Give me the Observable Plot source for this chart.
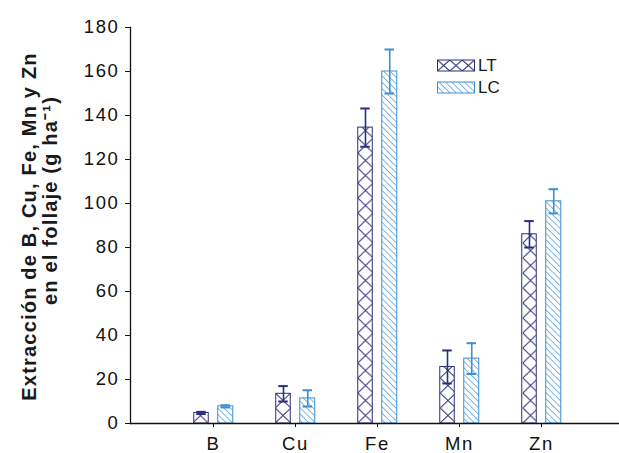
<!DOCTYPE html>
<html>
<head>
<meta charset="utf-8">
<script src="https://cdn.jsdelivr.net/npm/d3@7"></script>
<script src="https://cdn.jsdelivr.net/npm/@observablehq/plot@0.6"></script>
<style>
  html, body { margin: 0; padding: 0; background: #fff; }
  #chart { width: 619px; height: 453px; }
</style>
</head>
<body>
<div id="chart"></div>
<script>
const categories = ["B", "Cu", "Fe", "Mn", "Zn"];
const ltValues = [4.8, 13.5, 134.5, 25.7, 86];
const ltErrors = [0.5, 3.5, 8.7, 7.5, 6];
const lcValues = [7.8, 11.4, 160, 29.5, 101];
const lcErrors = [0.5, 3.7, 10, 7, 5.5];
const yTicks = [0, 20, 40, 60, 80, 100, 120, 140, 160, 180];
const seriesNames = ["LT", "LC"];
const titleLine1 = "Extracción de B, Cu, Fe, Mn y Zn";
const titleLine2 = "en el follaje (g ha⁻¹)";

const NAVY = "#2a2f78";
const BLUE = "#3b8fd3";

const lt = categories.map((c, i) => ({cat: c, v: ltValues[i], lo: ltValues[i] - ltErrors[i], hi: ltValues[i] + ltErrors[i]}));
const lc = categories.map((c, i) => ({cat: c, v: lcValues[i], lo: lcValues[i] - lcErrors[i], hi: lcValues[i] + lcErrors[i]}));

const half = 41.25; // half band width in px
const font = "'Liberation Sans', Arial, sans-serif";

const plot = Plot.plot({
  width: 619,
  height: 453,
  marginLeft: 130,
  marginRight: 0,
  marginTop: 27,
  marginBottom: 30,
  style: {fontFamily: font, color: "#1a1a1a", background: "#fff"},
  x: {type: "band", domain: categories, range: [171.05, 583.55], padding: 0},
  y: {domain: [0, 180], range: [423, 27]},
  marks: [
    Plot.barY(lt, {x: "cat", y: "v", insetLeft: half - 19.5, insetRight: half + 4.5, fill: "url(#pLT)", stroke: NAVY, strokeWidth: 1}),
    Plot.barY(lc, {x: "cat", y: "v", insetLeft: half + 4.5, insetRight: half - 20, fill: "url(#pLC)", stroke: BLUE, strokeWidth: 1}),
    Plot.ruleX(lt, {x: "cat", y1: "lo", y2: "hi", dx: -12, stroke: NAVY, strokeWidth: 1.6}),
    Plot.ruleX(lc, {x: "cat", y1: "lo", y2: "hi", dx: 12.25, stroke: BLUE, strokeWidth: 1.6}),
    Plot.tickY(lt, {x: "cat", y: "hi", insetLeft: half - 17, insetRight: half + 7, stroke: NAVY, strokeWidth: 2}),
    Plot.tickY(lt, {x: "cat", y: "lo", insetLeft: half - 17, insetRight: half + 7, stroke: NAVY, strokeWidth: 2}),
    Plot.tickY(lc, {x: "cat", y: "hi", insetLeft: half + 7.25, insetRight: half - 17.25, stroke: BLUE, strokeWidth: 2}),
    Plot.tickY(lc, {x: "cat", y: "lo", insetLeft: half + 7.25, insetRight: half - 17.25, stroke: BLUE, strokeWidth: 2}),
    Plot.ruleY([0], {stroke: "#111", strokeWidth: 1.3}),
    Plot.frame({anchor: "left", stroke: "#111", strokeWidth: 1.3}),
    Plot.axisY({ticks: yTicks, tickSize: 5, tickPadding: 6, fontSize: 18.5, label: null, stroke: "#111", fill: "#111"}),
    Plot.axisX({tickSize: 4, tickPadding: 9, fontSize: 18.5, label: null, stroke: "#111", fill: "#111"}),
    Plot.text([titleLine1], {frameAnchor: "left", textAnchor: "middle", rotate: -90, dx: -101, dy: 1, fontSize: 20, fontWeight: "bold", fill: "#1a1a1a"}),
    Plot.text([titleLine2], {frameAnchor: "left", textAnchor: "middle", rotate: -90, dx: -80, dy: -25, fontSize: 20, fontWeight: "bold", fill: "#1a1a1a"})
  ]
});

const svg = d3.select(plot);
// slightly wider text, as in the reference
svg.selectAll("g[aria-label='y-axis tick label'] text, g[aria-label='x-axis tick label'] text").attr("letter-spacing", "1.6px");
svg.selectAll("g[aria-label='text'] text").attr("letter-spacing", "1.2px");

const defs = svg.insert("defs", ":first-child");
// Cross-hatch pattern for LT (tile aligned with the bars' left edges)
const p1 = defs.append("pattern").attr("id", "pLT").attr("patternUnits", "userSpaceOnUse")
  .attr("width", 16.5).attr("height", 15).attr("x", 192.8).attr("y", 423);
p1.append("rect").attr("width", 16.5).attr("height", 15).attr("fill", "#fff");
p1.append("path").attr("d", "M0,0L15.5,15M15.5,0L0,15").attr("stroke", NAVY).attr("stroke-width", 1).attr("fill", "none");
// Diagonal hatch for LC
const p2 = defs.append("pattern").attr("id", "pLC").attr("patternUnits", "userSpaceOnUse")
  .attr("width", 4.5).attr("height", 4.5).attr("patternTransform", "rotate(-45)");
p2.append("rect").attr("width", 4.5).attr("height", 4.5).attr("fill", "#fff");
p2.append("line").attr("x1", 0).attr("y1", 0).attr("x2", 0).attr("y2", 4.5).attr("stroke", BLUE).attr("stroke-width", 1.3);
// Legend cross-hatch
const p3 = defs.append("pattern").attr("id", "pLTleg").attr("patternUnits", "userSpaceOnUse")
  .attr("width", 12.33).attr("height", 11).attr("x", 437.5).attr("y", 60);
p3.append("rect").attr("width", 12.33).attr("height", 11).attr("fill", "#fff");
p3.append("path").attr("d", "M0,0L12.33,11M12.33,0L0,11").attr("stroke", NAVY).attr("stroke-width", 1).attr("fill", "none");

// Legend inside the plot
const legend = svg.append("g").attr("font-family", font).attr("font-size", 17).attr("fill", "#1a1a1a").attr("text-anchor", "start");
const fills = ["url(#pLTleg)", "url(#pLC)"];
const strokes = [NAVY, BLUE];
seriesNames.forEach((name, i) => {
  const y0 = 60 + i * 22;
  legend.append("rect").attr("x", 437.5).attr("y", y0).attr("width", 37).attr("height", 11)
    .attr("fill", fills[i]).attr("stroke", strokes[i]).attr("stroke-width", 1);
  legend.append("text").attr("x", 478).attr("y", y0 + 5.5).attr("dy", "0.35em").text(name);
});

document.getElementById("chart").appendChild(plot);
</script>
</body>
</html>
